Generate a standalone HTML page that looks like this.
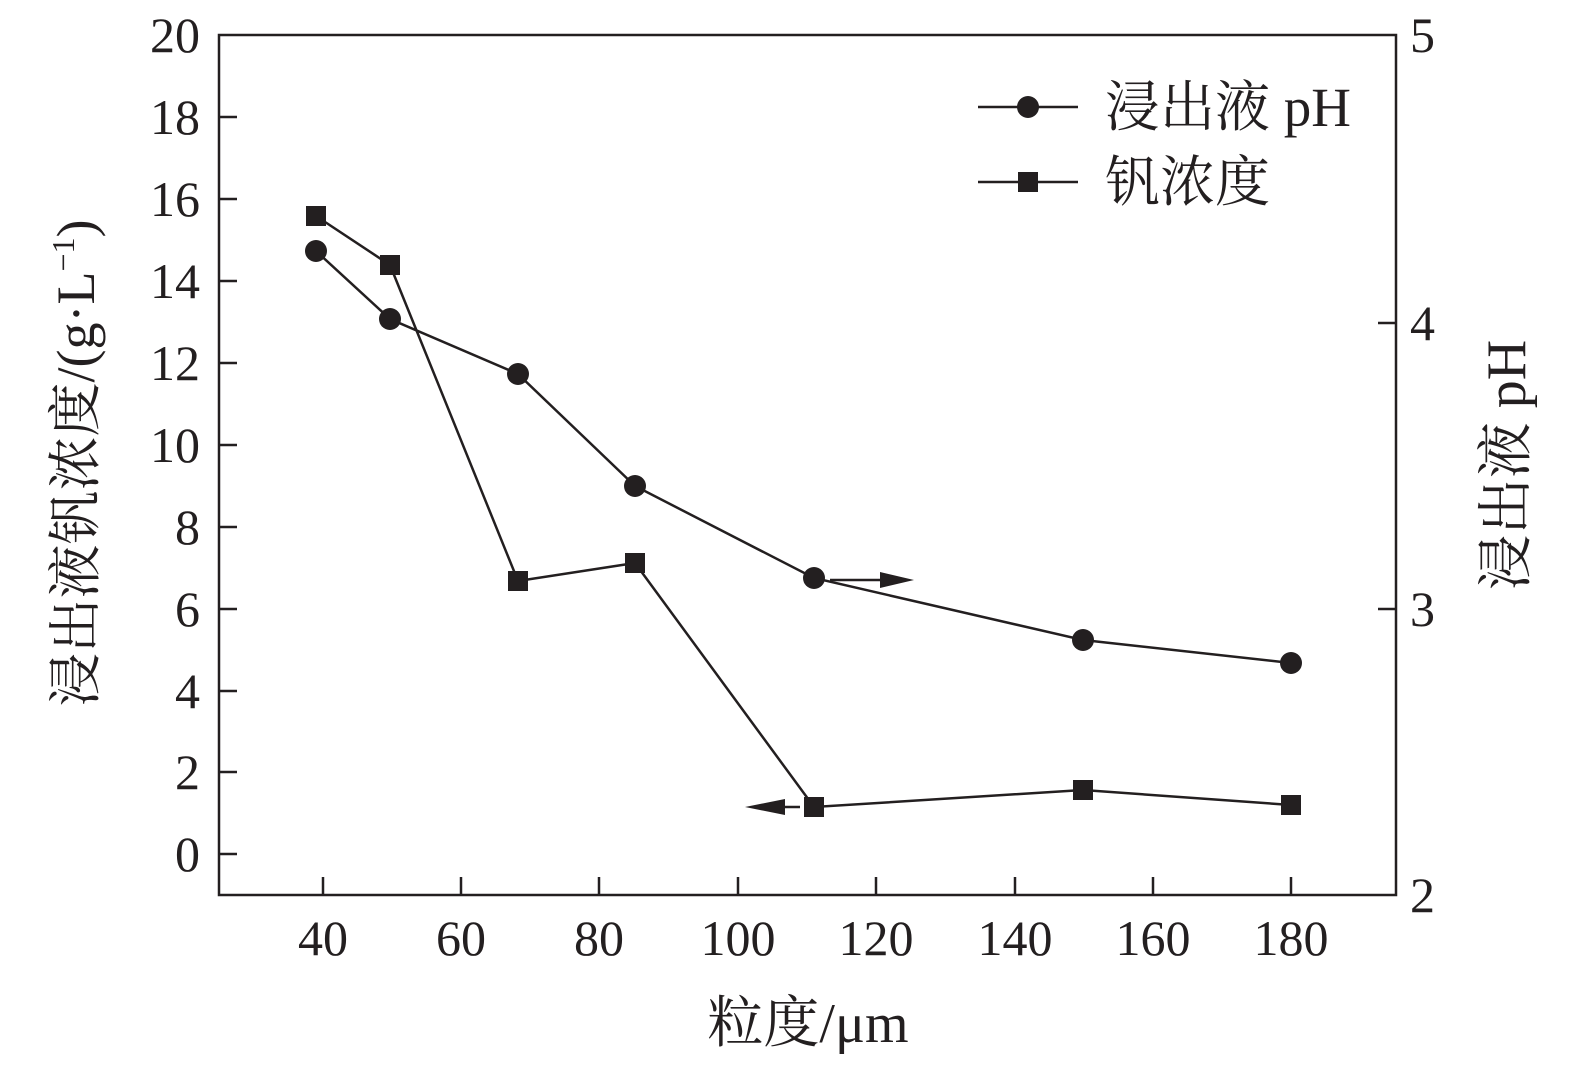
<!DOCTYPE html>
<html><head><meta charset="utf-8"><style>
html,body{margin:0;padding:0;background:#fff;}
svg text{font-family:"Liberation Serif","Noto Serif CJK SC",serif;fill:#231f20;}
</style></head><body>
<svg width="1575" height="1068" viewBox="0 0 1575 1068" xmlns="http://www.w3.org/2000/svg">
<rect x="219" y="35" width="1177" height="860" fill="none" stroke="#231f20" stroke-width="2.5"/>
<g stroke="#231f20" stroke-width="2.5">
<line x1="219" y1="854" x2="237" y2="854"/><line x1="219" y1="772" x2="237" y2="772"/>
<line x1="219" y1="691" x2="237" y2="691"/><line x1="219" y1="609" x2="237" y2="609"/>
<line x1="219" y1="527" x2="237" y2="527"/><line x1="219" y1="445" x2="237" y2="445"/>
<line x1="219" y1="363" x2="237" y2="363"/><line x1="219" y1="281" x2="237" y2="281"/>
<line x1="219" y1="199" x2="237" y2="199"/><line x1="219" y1="117" x2="237" y2="117"/>
<line x1="1396" y1="323" x2="1378" y2="323"/><line x1="1396" y1="609" x2="1378" y2="609"/>
<line x1="323" y1="895" x2="323" y2="877"/><line x1="461" y1="895" x2="461" y2="877"/>
<line x1="599" y1="895" x2="599" y2="877"/><line x1="738" y1="895" x2="738" y2="877"/>
<line x1="876" y1="895" x2="876" y2="877"/><line x1="1015" y1="895" x2="1015" y2="877"/>
<line x1="1153" y1="895" x2="1153" y2="877"/><line x1="1291" y1="895" x2="1291" y2="877"/>
</g>
<g font-size="50" text-anchor="end">
<text x="200" y="871">0</text><text x="200" y="789">2</text><text x="200" y="708">4</text>
<text x="200" y="626">6</text><text x="200" y="544">8</text><text x="200" y="462">10</text>
<text x="200" y="380">12</text><text x="200" y="298">14</text><text x="200" y="216">16</text>
<text x="200" y="134">18</text><text x="200" y="52">20</text>
</g>
<g font-size="50" text-anchor="start">
<text x="1410" y="52">5</text><text x="1410" y="340">4</text><text x="1410" y="626">3</text><text x="1410" y="912">2</text>
</g>
<g font-size="50" text-anchor="middle">
<text x="323" y="955">40</text><text x="461" y="955">60</text><text x="599" y="955">80</text>
<text x="738" y="955">100</text><text x="876" y="955">120</text><text x="1015" y="955">140</text>
<text x="1153" y="955">160</text><text x="1291" y="955">180</text>
<text x="808" y="1042" font-size="56">粒度/μm</text>
<text transform="translate(94,463) rotate(-90)" font-size="54">浸出液钒浓度/(g·L<tspan font-size="32" dy="-20">−1</tspan><tspan dy="20">)</tspan></text>
<text transform="translate(1525,465) rotate(-90)" font-size="56">浸出液 pH</text>
</g>
<g stroke="#231f20" stroke-width="2.5" fill="none">
<polyline points="316,251 390,319 518,374 635,486 814,578 1083,640 1291,663"/>
<polyline points="316,216 390,265 518,581 635,563 814,807 1083,790 1291,805"/>
<line x1="830" y1="580" x2="885" y2="580"/>
<line x1="780" y1="807" x2="800" y2="807"/>
<line x1="978" y1="107" x2="1078" y2="107"/>
<line x1="978" y1="182" x2="1078" y2="182"/>
</g>
<g fill="#231f20">
<polygon points="880,572 914,580 880,588"/>
<polygon points="785,799 745,807 785,815"/>
<circle cx="316" cy="251" r="11"/><circle cx="390" cy="319" r="11"/><circle cx="518" cy="374" r="11"/>
<circle cx="635" cy="486" r="11"/><circle cx="814" cy="578" r="11"/><circle cx="1083" cy="640" r="11"/>
<circle cx="1291" cy="663" r="11"/>
<rect x="306" y="206" width="20" height="20"/><rect x="380" y="255" width="20" height="20"/>
<rect x="508" y="571" width="20" height="20"/><rect x="625" y="553" width="20" height="20"/>
<rect x="804" y="797" width="20" height="20"/><rect x="1073" y="780" width="20" height="20"/>
<rect x="1281" y="795" width="20" height="20"/>
<circle cx="1028" cy="107" r="11"/><rect x="1018" y="172" width="20" height="20"/>
</g>
<g font-size="55">
<text x="1105" y="126">浸出液 pH</text>
<text x="1105" y="201">钒浓度</text>
</g>
</svg>
</body></html>
